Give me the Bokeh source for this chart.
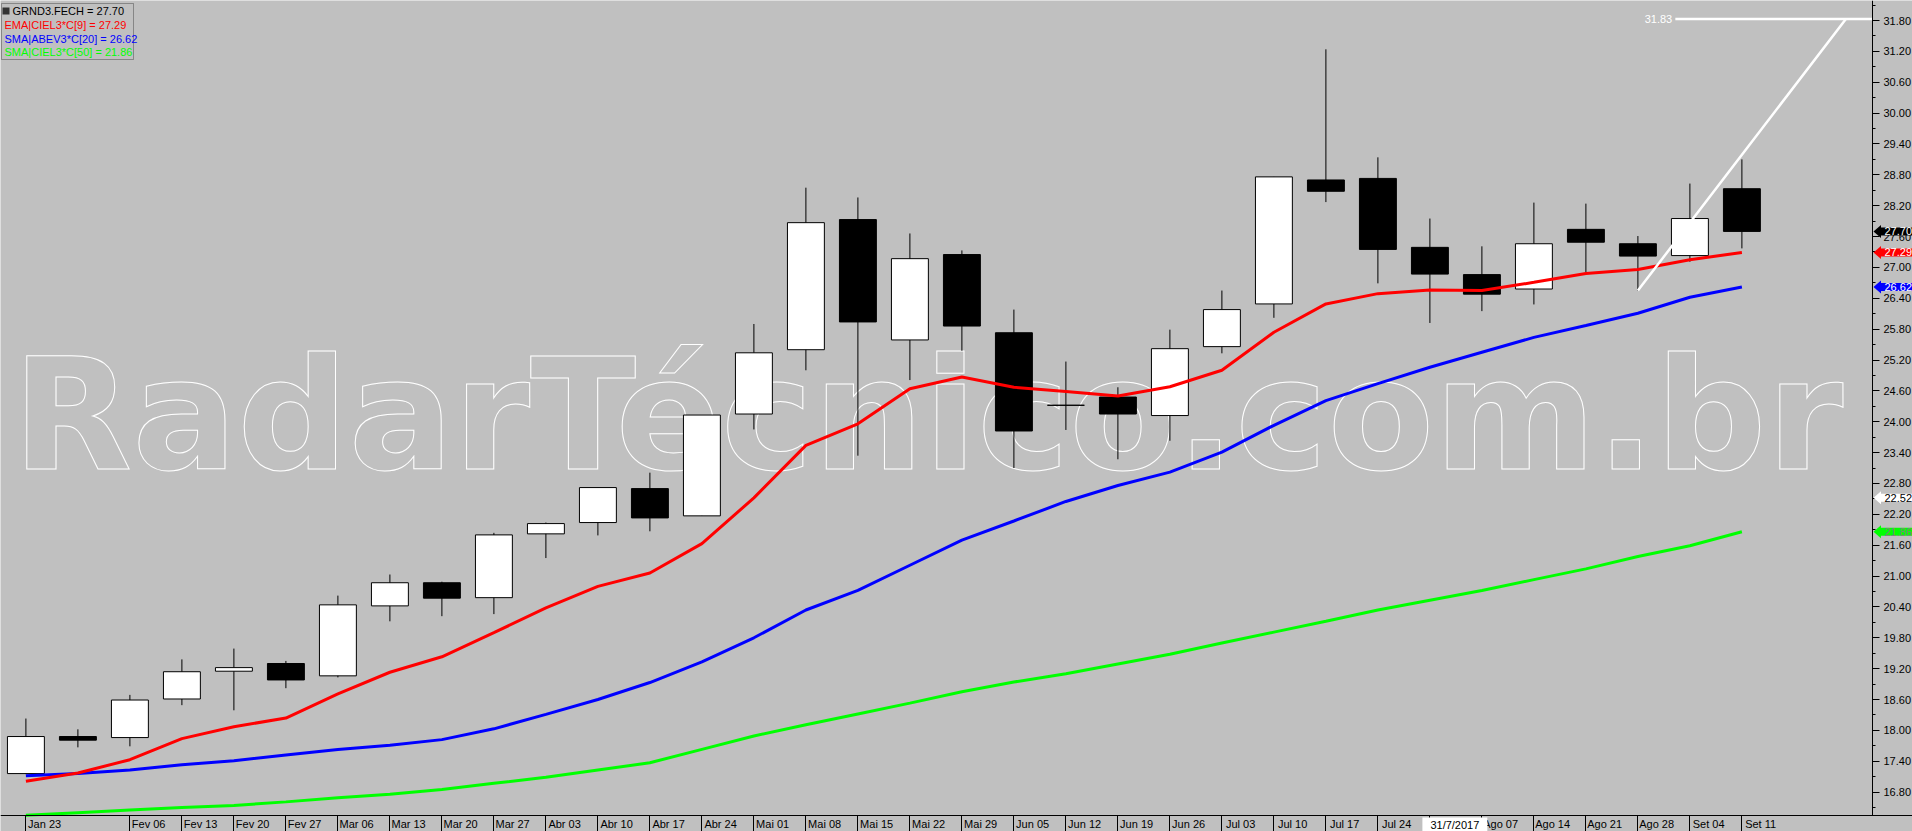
from bokeh.plotting import figure
from bokeh.models import (Range1d, FixedTicker, SingleIntervalTicker, NumeralTickFormatter,
                          Label, BoxAnnotation, PolyAnnotation, LinearAxis, Grid, Text)
from bokeh.core.properties import value
from bokeh.embed import file_html
from bokeh.resources import INLINE

# ---------------- data ----------------
weeks = ["Jan 23", "Jan 30", "Fev 06", "Fev 13", "Fev 20", "Fev 27", "Mar 06", "Mar 13",
         "Mar 20", "Mar 27", "Abr 03", "Abr 10", "Abr 17", "Abr 24", "Mai 01", "Mai 08",
         "Mai 15", "Mai 22", "Mai 29", "Jun 05", "Jun 12", "Jun 19", "Jun 26", "Jul 03",
         "Jul 10", "Jul 17", "Jul 24", "Jul 31", "Ago 07", "Ago 14", "Ago 21", "Ago 28",
         "Set 04", "Set 11"]
opens = [17.16, 17.88, 17.86, 18.61, 19.15, 19.30, 19.06, 20.42, 20.87, 20.58, 21.82, 22.04,
         22.70, 22.17, 24.15, 25.40, 27.93, 25.59, 27.25, 25.73, 24.32, 24.48, 24.12, 25.46,
         26.29, 28.70, 28.73, 27.39, 26.86, 26.58, 27.74, 27.46, 27.23, 28.53]
highs = [18.23, 18.02, 18.69, 19.38, 19.59, 19.35, 20.62, 21.03, 20.89, 21.84, 22.04, 22.72,
         23.01, 24.13, 25.90, 28.55, 28.36, 27.66, 27.33, 26.18, 25.17, 24.67, 25.79, 26.55,
         28.76, 31.24, 29.14, 27.95, 27.41, 28.26, 28.24, 27.61, 28.63, 29.10]
lows = [17.15, 17.67, 17.69, 18.49, 18.39, 18.82, 19.03, 20.12, 20.22, 20.26, 21.35, 21.79,
        21.87, 22.17, 23.85, 25.00, 23.34, 24.81, 25.38, 23.10, 23.84, 23.27, 23.63, 25.33,
        26.02, 28.27, 26.69, 25.92, 26.15, 26.28, 26.91, 26.55, 27.11, 27.37]
closes = [17.88, 17.81, 18.59, 19.14, 19.22, 18.98, 20.44, 20.87, 20.57, 21.80, 22.02, 22.72,
          22.13, 24.13, 25.34, 27.87, 25.94, 27.17, 25.86, 23.82, 24.32, 24.15, 25.42, 26.18,
          28.76, 28.48, 27.35, 26.87, 26.48, 27.46, 27.49, 27.22, 27.95, 27.70]
ema9 = [17.01, 17.17, 17.43, 17.84, 18.07, 18.24, 18.71, 19.13, 19.43, 19.90, 20.38, 20.80,
        21.06, 21.63, 22.52, 23.54, 23.96, 24.64, 24.87, 24.67, 24.59, 24.50, 24.68, 25.00,
        25.74, 26.29, 26.49, 26.56, 26.55, 26.71, 26.88, 26.96, 27.15, 27.29]
sma20 = [17.12, 17.16, 17.23, 17.33, 17.41, 17.52, 17.63, 17.71, 17.82, 18.03, 18.31, 18.60,
         18.93, 19.33, 19.80, 20.34, 20.72, 21.21, 21.70, 22.07, 22.45, 22.76, 23.02, 23.41,
         23.93, 24.41, 24.74, 25.06, 25.35, 25.64, 25.87, 26.11, 26.42, 26.62]
sma50 = [16.35, 16.40, 16.45, 16.50, 16.54, 16.61, 16.69, 16.76, 16.85, 16.97, 17.09, 17.23,
         17.37, 17.63, 17.89, 18.11, 18.32, 18.53, 18.75, 18.94, 19.10, 19.29, 19.48, 19.70,
         19.91, 20.12, 20.34, 20.53, 20.72, 20.93, 21.14, 21.38, 21.59, 21.86]
proj_idx = [31, 33, 35]
proj_val = [26.55, 29.19, 31.83]
proj_label = "31.83"
legend_texts = ["GRND3.FECH = 27.70", "EMA|CIEL3*C[9] = 27.29",
                "SMA|ABEV3*C[20] = 26.62", "SMA|CIEL3*C[50] = 21.86"]
tag_texts = ["27.70", "27.29", "26.62", "22.52", "21.86"]
tag_values = [27.70, 27.29, 26.62, 22.52, 21.86]
cursor_date = "31/7/2017"
cursor_idx = 27.48
watermark = "RadarTécnico.com.br"
hidden_labels = ["Jan 30", "Jul 31"]
no_separator = ["Jan 30"]

# ---------------- geometry / style ----------------
BG = "#c0c0c0"
RED, BLUE, GREEN = "#ff0000", "#0000ff", "#00ff00"
FONT = "Liberation Sans"
W, H = 1912, 831
PX_X = 52.0                       # pixels per week
x0 = -25.4 / PX_X
x1 = x0 + W / PX_X
PX_Y = 51.44                      # pixels per price unit
y1 = 31.8 + 20 / PX_Y
y0 = y1 - H / PX_Y
AXIS_X = x0 + 1872 / PX_X         # data x of the price axis line
AXIS_Y = y1 - 815 / PX_Y          # data y of the date axis line


def cx(px):
    return x0 + px / PX_X


def cy(py):
    return y1 - py / PX_Y


p = figure(width=W, height=H, x_range=Range1d(x0, x1), y_range=Range1d(y0, y1),
           output_backend="svg", toolbar_location=None,
           x_axis_location=None, y_axis_location=None, min_border=0,
           background_fill_color=BG, border_fill_color=BG, outline_line_color=None)
for r in list(p.center):
    if isinstance(r, Grid):
        r.visible = False

# watermark (drawn first, under everything)
wm_kwargs = dict(text_font=value("DejaVu Sans"), text_font_style="bold",
                 text_font_size="155.5px", text_align="left", text_baseline="alphabetic")
if "text_outline_color" in Text.properties():
    p.text(x=[cx(12)], y=[24.12], text=[watermark], text_color=BG,
           text_outline_color="white", **wm_kwargs)
else:
    p.text(x=[cx(12)], y=[24.12], text=[watermark], text_color="white", text_alpha=0.25,
           **wm_kwargs)

idx = list(range(len(weeks)))
body_top = [max(o, c) for o, c in zip(opens, closes)]
body_bot = [min(o, c) for o, c in zip(opens, closes)]
body_col = ["white" if c >= o else "black" for o, c in zip(opens, closes)]

p.segment(x0=idx, y0=highs, x1=idx, y1=lows, line_color="black", line_width=1)
p.vbar(x=idx, top=body_top, bottom=body_bot, width=0.71, fill_color=body_col,
       line_color="black", line_width=1)

p.line(idx, sma50, line_color=GREEN, line_width=3)
p.line(idx, sma20, line_color=BLUE, line_width=3)
p.line(idx, ema9, line_color=RED, line_width=3)

# projection tool
p.line(proj_idx, proj_val, line_color="white", line_width=2.5)
p.segment(x0=[proj_idx[0] + 0.72], y0=[proj_val[-1]], x1=[AXIS_X], y1=[proj_val[-1]],
          line_color="white", line_width=2.5)
p.text(x=[proj_idx[0] + 0.66], y=[proj_val[-1]], text=[proj_label], text_color="white",
       text_font=value(FONT), text_font_size="11px", text_align="right",
       text_baseline="middle")

# price axis
ay = LinearAxis(fixed_location=AXIS_X, bounds=(AXIS_Y, y1),
                ticker=SingleIntervalTicker(interval=0.6, num_minor_ticks=2),
                formatter=NumeralTickFormatter(format="0.00"),
                major_tick_out=7, major_tick_in=0, minor_tick_out=3, minor_tick_in=0,
                major_label_standoff=4, major_label_text_font=FONT,
                major_label_text_font_size="11px", major_label_text_color="black",
                axis_line_color="black", major_tick_line_color="black",
                minor_tick_line_color="black")
p.add_layout(ay, "right")

# date axis: separators as minor ticks, labels just right of them
label_idx = [i for i in idx if weeks[i] not in hidden_labels]
major = [i + 0.36 for i in label_idx]
seps = [i for i in idx if weeks[i] not in no_separator]
ax = LinearAxis(fixed_location=AXIS_Y,
                ticker=FixedTicker(ticks=major, minor_ticks=seps),
                major_label_overrides={m: weeks[i] for m, i in zip(major, label_idx)},
                major_tick_out=16, major_tick_in=0, minor_tick_out=16, minor_tick_in=0,
                major_tick_line_color=None, major_label_standoff=-14,
                major_label_text_font=FONT, major_label_text_font_size="11px",
                major_label_text_color="black", axis_line_color="black",
                minor_tick_line_color="black")
p.add_layout(ax, "below")

# legend box
p.add_layout(BoxAnnotation(left=cx(1), right=cx(133), top=cy(3), bottom=cy(59),
                           fill_alpha=0, line_color="black", line_width=1))
p.add_layout(BoxAnnotation(left=cx(2), right=cx(9), top=cy(7), bottom=cy(14),
                           fill_color="#333333", fill_alpha=1, line_color=None))
legend_cols = ["black", RED, BLUE, GREEN]
legend_x = [12, 4, 4, 4]
legend_y = [10.5, 24, 38.3, 51.7]
for t, c, lx, ly in zip(legend_texts, legend_cols, legend_x, legend_y):
    p.add_layout(Label(x=cx(lx), y=cy(ly), text=t, text_color=c, text_font=FONT,
                       text_font_size="11px", text_baseline="middle", text_align="left"))

# value tags on the price axis
tag_bg = ["black", RED, BLUE, "white", GREEN]
tag_fg = ["white", "white", "white", "black", "#808080"]
for t, v, bg, fg in zip(tag_texts, tag_values, tag_bg, tag_fg):
    p.add_layout(PolyAnnotation(xs=[AXIS_X + 1 / PX_X, AXIS_X + 8.5 / PX_X, AXIS_X + 8.5 / PX_X],
                                ys=[v, v + 6.5 / PX_Y, v - 6.5 / PX_Y],
                                fill_color=bg, fill_alpha=1, line_color=None))
    p.add_layout(Label(x=AXIS_X + 8 / PX_X, y=v, text=t, text_color=fg, text_font=FONT,
                       text_font_size="11px", text_baseline="middle", text_align="left",
                       background_fill_color=bg, padding=(4, 0)))

# date cursor label on the date axis
p.add_layout(Label(x=cursor_idx, y=cy(817), text=cursor_date, text_color="black",
                   text_font=FONT, text_font_size="11px", text_align="center",
                   text_baseline="top", background_fill_color="white", padding=(8, 1)))

open("out.html", "w").write(file_html(p, INLINE))
